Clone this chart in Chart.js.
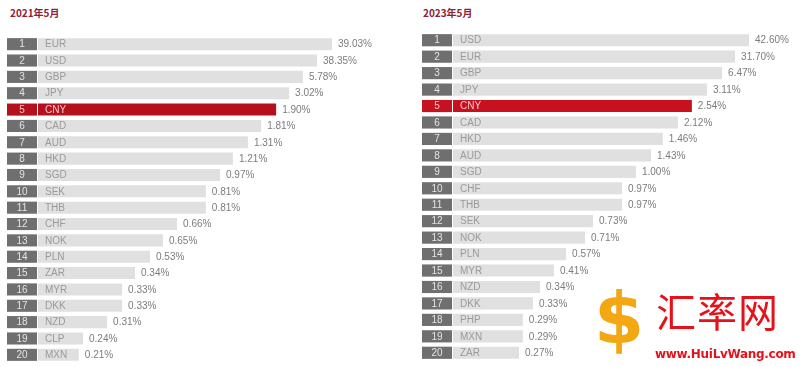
<!DOCTYPE html>
<html>
<head>
<meta charset="utf-8">
<script src="https://cdn.jsdelivr.net/npm/chart.js@4"></script>
<style>
  body { margin: 0; background: #fff; width: 800px; height: 367px; overflow: hidden; position: relative; }
  canvas { position: absolute; top: 0; }
  .title { position: absolute; top: 5px; font: bold 10px "Noto Sans CJK SC", sans-serif; color: #8e2235; }
  .wm-logo { position: absolute; left: 594px; top: 282px; font: bold 72px "DejaVu Sans", sans-serif; color: #f3a712; line-height: 1; }
  .wm-name { position: absolute; left: 656px; top: 290px; font: 40px "Noto Sans CJK SC", serif; color: #e5121b; line-height: 1; letter-spacing: 1px; }
  .wm-url { position: absolute; left: 655px; top: 347px; font: bold 12px "DejaVu Sans", sans-serif; color: #e5121b; letter-spacing: -0.3px; }
</style>
</head>
<body>
<div class="title" style="left:10px">2021年5月</div>
<div class="title" style="left:423px">2023年5月</div>
<canvas id="c2021" width="400" height="367" style="left:0"></canvas>
<canvas id="c2023" width="400" height="367" style="left:400px"></canvas>
<div class="wm-logo">$</div>
<div class="wm-name">汇率网</div>
<div class="wm-url">www.HuiLvWang.com</div>
<script>
// 2021年5月
const cur2021 = ['EUR','USD','GBP','JPY','CNY','CAD','AUD','HKD','SGD','SEK','THB','CHF','NOK','PLN','ZAR','MYR','DKK','NZD','CLP','MXN'];
const share2021 = [39.03,38.35,5.78,3.02,1.90,1.81,1.31,1.21,0.97,0.81,0.81,0.66,0.65,0.53,0.34,0.33,0.33,0.31,0.24,0.21];
// bar lengths as drawn in the picture (relative, first bar = 100)
const len2021 = [100,94.9,90.1,85.4,81,75.9,71.4,66.3,61.9,57.1,57.1,47.3,42.5,38.1,33,28.6,28.6,23.5,15.3,13.9];

// 2023年5月
const cur2023 = ['USD','EUR','GBP','JPY','CNY','CAD','HKD','AUD','SGD','CHF','THB','SEK','NOK','PLN','MYR','NZD','DKK','PHP','MXN','ZAR'];
const share2023 = [42.60,31.70,6.47,3.11,2.54,2.12,1.46,1.43,1.00,0.97,0.97,0.73,0.71,0.57,0.41,0.34,0.33,0.29,0.29,0.27];
const len2023 = [100,95.3,90.9,85.8,80.7,76,70.9,66.9,61.8,57.1,57.1,47.3,44.6,38.2,34.1,29.4,27,23.6,23.6,22.3];

const HIGHLIGHT = 'CNY';

// rank box + labels drawn next to each bar
const rankPlugin = {
    id: 'rankLabels',
    afterDatasetsDraw(chart, args, opts) {
        const ctx = chart.ctx;
        const meta = chart.getDatasetMeta(0);
        const labels = chart.data.labels;
        const shares = opts.shares;
        ctx.save();
        meta.data.forEach((bar, i) => {
            const h = bar.height;
            const top = bar.y - h / 2;
            const hot = labels[i] === HIGHLIGHT;
            // rank box
            ctx.fillStyle = hot ? opts.red : '#6f6f6f';
            ctx.fillRect(bar.base - 31, top, 30, h);
            ctx.textBaseline = 'middle';
            ctx.font = '10px "Liberation Sans", Arial, sans-serif';
            ctx.textAlign = 'center';
            ctx.fillStyle = hot ? '#f3c9cb' : '#e4e4e4';
            ctx.fillText(String(i + 1), bar.base - 16, bar.y + 0.5);
            // currency
            ctx.textAlign = 'left';
            ctx.fillStyle = hot ? '#f3c9cb' : '#9a9a9a';
            ctx.fillText(labels[i], bar.base + 7, bar.y + 0.5);
            // value
            ctx.fillStyle = '#7c7c7c';
            ctx.fillText(shares[i].toFixed(2) + '%', bar.x + 6, bar.y + 0.5);
        });
        ctx.restore();
    }
};

function makeChart(id, cats, lens, shares, red, pad) {
    const ctx = document.getElementById(id).getContext('2d');
    return new Chart(ctx, {
        type: 'bar',
        data: {
            labels: cats,
            datasets: [{
                data: lens,
                backgroundColor: cats.map(c => c === HIGHLIGHT ? red : '#e0e0e0'),
                borderWidth: 0,
                barPercentage: 0.74,
                categoryPercentage: 1
            }]
        },
        options: {
            indexAxis: 'y',
            responsive: false,
            devicePixelRatio: 1,
            animation: false,
            layout: { padding: pad },
            scales: {
                x: { display: false, min: 0, max: 100 },
                y: { display: false }
            },
            plugins: {
                legend: { display: false },
                tooltip: { enabled: false },
                rankLabels: { shares: shares, red: red }
            }
        },
        plugins: [rankPlugin]
    });
}

makeChart('c2021', cur2021, len2021, share2021, '#b5111c', { left: 38, right: 68, top: 36, bottom: 4 });
makeChart('c2023', cur2023, len2023, share2023, '#c8111f', { left: 53, right: 51, top: 32, bottom: 6 });
</script>
</body>
</html>
